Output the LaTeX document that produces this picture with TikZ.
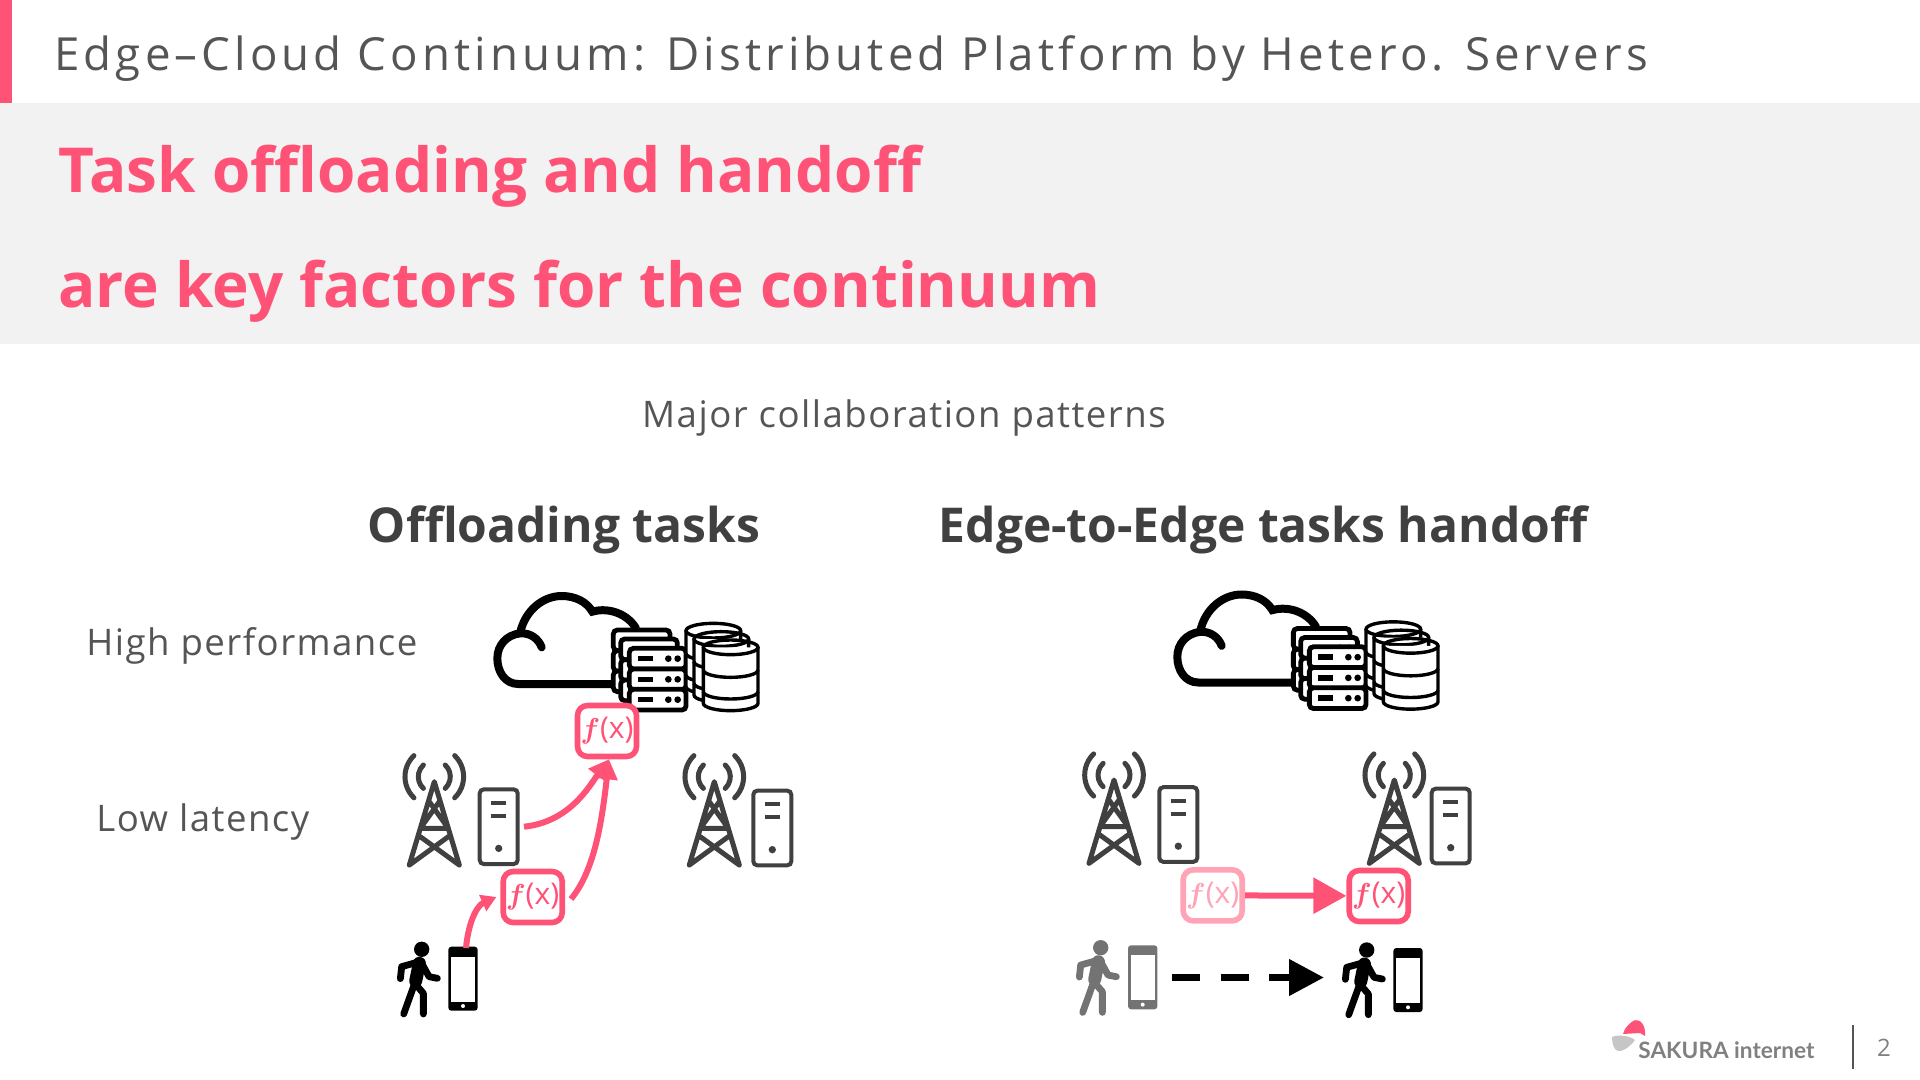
\documentclass[tikz,border=0pt]{standalone}
\usepackage{fontspec}
\setmainfont{Open Sans}
\newfontfamily\titlefont[LetterSpace=9]{Open Sans}
\newfontfamily\labelfont[LetterSpace=4]{Open Sans}
\newfontfamily\logofont{Lato}
\usetikzlibrary{arrows.meta}
\definecolor{sakura}{HTML}{FF5277}
\definecolor{fadedpink}{HTML}{FFA3B6}
\definecolor{panel}{HTML}{F2F2F2}
\definecolor{ink}{HTML}{404040}
\definecolor{softink}{HTML}{555555}
\definecolor{fadedink}{HTML}{737373}
\tikzset{
  pics/datacenter/.style={code={
    % cloud
    \draw[line width=4pt,line cap=round] (695,342) -- (415,342) .. controls (375,342) and (352,305) .. (352,265)
      .. controls (352,225) and (380,195) .. (420,190) .. controls (450,188) and (475,205) .. (485,232);
    \draw[line width=4pt,line cap=round] (420,190) .. controls (435,120) and (490,78) .. (545,78)
      .. controls (585,78) and (620,95) .. (637,125) .. controls (690,110) and (745,135) .. (768,175);
    % servers
    \foreach \dx/\dy in {-48/-55,-26/-28,0/0} {
      \foreach \top in {235,297,358} {
        \draw[line width=2.4pt,rounded corners=2pt,fill=white] (748+\dx,\top+\dy) rectangle (918+\dx,\top+62+\dy);
        \draw[line width=2.8pt] (775+\dx,\top+31+\dy) -- (820+\dx,\top+31+\dy);
        \fill (865+\dx,\top+31+\dy) circle (10) (893+\dx,\top+31+\dy) circle (10);
      }
    }
    % disks
    \foreach \dx/\dy in {-52/-50,-28/-25,0/0} {
      \draw[line width=1.7pt,fill=white] (970+\dx,232+\dy) -- (970+\dx,400+\dy)
        arc[start angle=180,end angle=0,x radius=82,y radius=22] -- (1134+\dx,232+\dy);
      \draw[line width=1.7pt] (1052+\dx,232+\dy) ellipse[x radius=82,y radius=22];
      \foreach \ring in {300,365}
        \draw[line width=1.7pt] (970+\dx,\ring+\dy) arc[start angle=180,end angle=0,x radius=82,y radius=22];
    }
  }},
  pics/tower/.style={code={
    \draw[ink,line width=2.5pt,line join=round,line cap=round] (-75,250) -- (0,0) -- (75,250)
      (-15,60) -- (42,140) -- (-42,140) -- (15,60)
      (-42,165) -- (75,250) (42,165) -- (-75,250);
    \foreach \r/\a in {48/47,88/46} {
      \draw[ink,line width=2.5pt,line cap=round] (0,-15) ++(180-\a:\r) arc[start angle=180-\a,end angle=180+\a,radius=\r];
      \draw[ink,line width=2.5pt,line cap=round] (0,-15) ++(-\a:\r) arc[start angle=-\a,end angle=\a,radius=\r];
    }
  }},
  pics/pcbox/.style={code={
    \draw[ink,line width=2pt,rounded corners=2pt] (-57,-112) rectangle (57,112);
    \draw[ink,line width=2pt] (-23,-72) -- (23,-72) (-23,-32) -- (23,-32);
    \fill[ink] (0,65) circle (11);
  }},
  pics/walker/.style={code={
    \fill[#1] (0,0) circle (23);
    \draw[#1,line width=6.5pt,line cap=round] (-7,42) -- (-18,95);
    \draw[#1,line width=3.4pt,line cap=round,line join=round] (-10,38) -- (-60,52) -- (-64,88)
      (0,42) -- (22,82) -- (47,87)
      (-22,105) -- (-54,194)
      (-18,105) -- (5,132) -- (5,194);
  }},
  pics/phone/.style={code={
    \fill[#1,rounded corners=1.5pt] (-44,-96) rectangle (44,96);
    \fill[white] (-35,-66) rectangle (36,69);
    \fill[white] (0,82) circle (6);
  }},
  fxbox/.style={draw=#1,text=#1,line width=2.8pt,rounded corners=5pt,fill=white,
    minimum width=29.5pt,minimum height=25.5pt,inner sep=0pt,font=\boldmath\fontsize{15}{15}\selectfont},
  headline/.style={anchor=west,inner sep=0pt,text=sakura,font=\fontsize{31}{31}\selectfont\bfseries},
  sidelabel/.style={anchor=west,inner sep=0pt,text=softink,font=\labelfont\fontsize{18.3}{18}\selectfont},
  grouphead/.style={text=ink,font=\fontsize{24}{24}\selectfont\bfseries},
  pinkarrow/.style={draw=sakura,line width=3pt},
}
\begin{document}
\begin{tikzpicture}[x=.5pt,y=-.5pt]
\useasboundingbox (0,0) rectangle (1920,1080);
% header
\fill[sakura] (0,0) rectangle (12,103);
\fill[panel] (0,103) rectangle (1920,344);
\node[anchor=west,inner sep=0pt,text=softink,font=\titlefont\fontsize{22.8}{23}\selectfont] (title) at (54,59) {Edge–Cloud Continuum: Distributed Platform by Hetero. Servers};
\node[headline] (lineone) at (58,176) {Task offloading and handoff};
\node[headline] (linetwo) at (58,291) {are key factors for the continuum};
% labels
\node[text=softink,font=\labelfont\fontsize{18.3}{18}\selectfont] (patterns) at (904,418) {Major collaboration patterns};
\node[grouphead] (offload) at (564,530) {Offloading tasks};
\node[grouphead] (handoff) at (1263,530) {Edge-to-Edge tasks handoff};
\node[sidelabel] (high) at (86,646) {High performance};
\node[sidelabel] (low) at (96,822) {Low latency};
% offloading
\pic at (380,570) [scale=1/3] {datacenter};
\pic at (434.3,781.7) [scale=1/3] {tower};
\pic at (498.7,826.7) [scale=1/3] {pcbox};
\pic at (714.3,781.7) [scale=1/3] {tower};
\pic at (772.3,828) [scale=1/3] {pcbox};
\pic at (421.7,949.3) [scale=1/3] {walker=black};
\pic at (463,978.7) [scale=1/3] {phone=black};
\node[fxbox=sakura] (fxtop) at (607,731) {$f$(x)};
\node[fxbox=sakura] (fxlow) at (532.7,897) {$f$(x)};
\coordinate (pcout) at (524,826.7);
\coordinate (phoneout) at (466,948);
\draw[pinkarrow,-{Triangle[length=10pt,width=10.5pt]}] (pcout) .. controls (570,822) and (590,785) .. ([xshift=1pt]fxtop.south);
\draw[pinkarrow,-{Triangle[length=10pt,width=10.5pt]}] ([xshift=3pt,yshift=-1pt]fxlow.east) .. controls (595,870) and (602,820) .. ([xshift=1pt]fxtop.south);
\draw[pinkarrow,-{Triangle[length=7.5pt,width=8.5pt]}] (phoneout) .. controls (468,925) and (476,906) .. ([xshift=-2pt]fxlow.west);
% handoff
\pic at (1060,568.5) [scale=1/3] {datacenter};
\pic at (1114,780) [scale=1/3] {tower};
\pic at (1178.3,824.5) [scale=1/3] {pcbox};
\pic at (1394.3,780) [scale=1/3] {tower};
\pic at (1450.7,826) [scale=1/3] {pcbox};
\pic at (1100.7,947.7) [scale=1/3] {walker=fadedink};
\pic at (1142.7,977.3) [scale=1/3] {phone=fadedink};
\pic at (1366.7,950) [scale=1/3] {walker=black};
\pic at (1408,980) [scale=1/3] {phone=black};
\node[fxbox=fadedpink] (fxold) at (1212.7,895.3) {$f$(x)};
\node[fxbox=sakura] (fxnew) at (1378.7,896) {$f$(x)};
\draw[pinkarrow,-{Triangle[length=16.5pt,width=17.5pt]}] (fxold) -- (fxnew);
\coordinate (userold) at (1172,977.5);
\coordinate (usernew) at (1324,977.5);
\draw[line width=3.7pt,dash pattern=on 14pt off 10.3pt,-{Triangle[length=17.5pt,width=17.5pt]}] (userold) -- (usernew);
% footer
\fill[sakura] (1623,1034) .. controls (1626,1022) and (1640,1018) .. (1634,1021) .. controls (1640,1018) and (1646,1025) .. (1645,1036) -- (1640,1033) -- cycle;
\fill[gray!45] (1612,1037) .. controls (1618,1034) and (1630,1036) .. (1635,1040) .. controls (1630,1047) and (1622,1052) .. (1618,1051) .. controls (1614,1050) and (1612,1044) .. (1612,1037) -- cycle;
\node[anchor=west,inner sep=0pt,text=gray,font=\logofont\fontsize{11.3}{12}\selectfont\bfseries] (logo) at (1638,1050) {SAKURA internet};
\coordinate (ruletop) at (1853,1025);
\coordinate (rulebot) at (1853,1069);
\draw[softink,line width=.9pt] (ruletop) -- (rulebot);
\node[text=gray,font=\fontsize{12}{12}\selectfont] (page) at (1884,1048) {2};
\end{tikzpicture}
\end{document}
